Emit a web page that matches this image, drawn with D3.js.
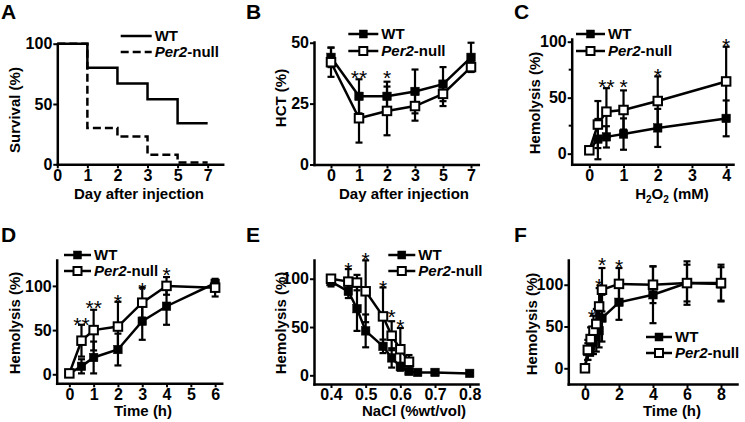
<!DOCTYPE html>
<html>
<head>
<meta charset="utf-8">
<script src="https://d3js.org/d3.v7.min.js"></script>
<style>
  body { margin: 0; background: #fff; }
  svg { display: block; }
</style>
</head>
<body>
<div id="chart"></div>
<script>
// ---- data ----
// A: survival (step curves)
const survDays = ["0", "1", "2", "3", "5", "7"];
const survWT = [100, 80, 67, 54, 34, 34];
const survKO = [100, 30, 23, 8, 1.5, 1.5];

// B: hematocrit
const hctDays = ["0", "1", "2", "3", "5", "7"];
const hctWT = [44, 28, 28, 30, 33, 44];
const hctWTErr = [4, 7, 6, 9, 7, 6];
const hctKO = [42, 19, 22, 24, 29, 40];
const hctKOErr = [6, 10, 10, 6, 5, 2];
const hctStars = [[1, 37.6, "**"], [2, 37.6, "*"]];

// C: H2O2 dose
const h2o2Conc = [0, 0.25, 0.5, 1, 2, 4];
const h2o2WT = [3, 13, 15, 17.5, 23, 31.5];
const h2o2WTErr = [2, 18, 9.5, 14, 17, 16];
const h2o2KO = [3, 26, 37.5, 39, 47, 64.5];
const h2o2KOErr = [2, 21, 21, 17.5, 22, 31];
const h2o2Stars = [[0.5, 64, "**"], [1, 64, "*"], [2, 74, "*"], [4, 100.6, "*"]];

// D: time course (h)
const timeD = [0, 0.5, 1, 2, 3, 4, 6];
const timeDWT = [1, 9, 19, 28, 60, 77, 103];
const timeDWTErr = [1, 8, 18, 18, 21, 21, 3];
const timeDKO = [1, 38, 50, 54, 81, 100, 98];
const timeDKOErr = [1, 18, 23, 28, 17, 10, 10];
const timeDStars = [[0.5, 61.4, "**"], [1, 81, "**"], [2, 87.8, "*"], [3, 101.5, "*"], [4, 118, "*"]];

// E: osmotic fragility
const naclConc = [0.4, 0.45, 0.475, 0.5, 0.55, 0.575, 0.6, 0.625, 0.65, 0.7, 0.8];
const naclWT = [97, 87, 69, 46, 30, 18, 9, 4, 3, 3, 2];
const naclWTErr = [5, 7, 23, 17, 7, 10, 4, 2, 1, 1, 1];
const naclKOConc = [0.4, 0.45, 0.475, 0.5, 0.55, 0.575, 0.6, 0.625];
const naclKO = [100, 97, 96, 87, 61, 41, 27, 14];
const naclKOErr = [3, 13, 8, 32, 30, 15, 22, 7];
const naclStars = [[0.45, 114, "*"], [0.5, 124.5, "*"], [0.55, 96, "*"], [0.575, 66, "*"], [0.6, 55.5, "*"]];

// F: time course, dense early points
const timeF = [0, 0.167, 0.333, 0.5, 0.667, 0.833, 1, 2, 4, 6, 8];
const timeFWT = [0, 20, 27, 32, 38, 45, 60, 79, 88, 102, 101];
const timeFWTErr = [2, 10, 12, 15, 18, 20, 28, 21, 34, 22, 20];
const timeFKO = [0, 22, 35, 45, 53, 74, 94, 101, 100, 102, 102];
const timeFKOErr = [2, 12, 14, 18, 18, 22, 26, 19, 22, 26, 22];
const timeFStars = [[0.4, 67.7, "*"], [0.833, 104.8, "*"], [1, 129.6, "*"], [2, 127.5, "*"]];

// ---- drawing ----
const width = 745, height = 422;
const font = "'Liberation Sans', Arial, Helvetica, sans-serif";

const svg = d3.select("#chart").append("svg")
  .attr("width", width)
  .attr("height", height)
  .style("font-family", font);

function zip(xs, ys, es) {
  return xs.map((d, i) => ({ x: d, y: ys[i], e: es ? es[i] : 0 }));
}

function legendLabel(sel, name) {
  if (name === "WT") {
    sel.text("WT");
  } else {
    sel.append("tspan").attr("font-style", "italic").text("Per2");
    sel.append("tspan").text("-null");
  }
}

function drawPanel(p) {
  const g = svg.append("g");
  const x = d3.scaleLinear().domain(p.xDomain).range(p.xRange);
  const y = d3.scaleLinear().domain(p.yDomain).range(p.yRange);

  // panel letter
  g.append("text")
    .attr("x", p.letter[1]).attr("y", p.letter[2])
    .attr("font-size", 21).attr("font-weight", "bold")
    .text(p.letter[0]);

  // axes
  const xAxis = g.append("g")
    .attr("transform", `translate(0,${p.yRange[0]})`)
    .call(d3.axisBottom(x).tickValues(p.xTicks).tickFormat(p.xFormat)
      .tickSize(4).tickSizeOuter(0).tickPadding(1));
  const yAxis = g.append("g")
    .attr("transform", `translate(${p.xRange[0]},0)`)
    .call(d3.axisLeft(y).tickValues(p.yTicks).tickFormat(d3.format("d"))
      .tickSize(4).tickSizeOuter(0).tickPadding(1));
  if (p.yMinor) {
    yAxis.selectAll(".minor").data(p.yMinor).join("line")
      .attr("x1", -3).attr("x2", 0)
      .attr("y1", d => y(d)).attr("y2", d => y(d))
      .attr("stroke", "#000").attr("stroke-width", 2);
  }
  [xAxis, yAxis].forEach(a => {
    a.select(".domain").attr("stroke-width", 2.5).attr("stroke-linecap", "square");
    a.selectAll(".tick line").attr("stroke-width", 2);
    a.selectAll("text").attr("font-size", 16).attr("font-weight", "bold")
      .attr("font-family", font).attr("fill", "#000");
  });

  // axis titles
  const xt = g.append("text")
    .attr("x", p.xTitlePos[0]).attr("y", p.xTitlePos[1])
    .attr("text-anchor", "middle").attr("font-size", 15).attr("font-weight", "bold");
  p.xTitle(xt);
  g.append("text")
    .attr("transform", `translate(${p.yTitlePos[0]},${p.yTitlePos[1]}) rotate(-90)`)
    .attr("text-anchor", "middle").attr("dy", "0.35em")
    .attr("font-size", 15).attr("font-weight", "bold")
    .text(p.yTitle);

  // series
  p.series.forEach(s => {
    const pts = s.points;
    const sg = g.append("g");
    if (s.step) {
      sg.append("path")
        .datum(pts)
        .attr("fill", "none").attr("stroke", "#000").attr("stroke-width", 2.5)
        .attr("stroke-dasharray", s.dash || null)
        .attr("d", d3.line().x(d => x(d.x)).y(d => y(d.y)).curve(d3.curveStepAfter));
      return;
    }
    const eb = sg.selectAll(".eb").data(pts.filter(d => d.e > 0)).join("g");
    eb.append("line")
      .attr("x1", d => x(d.x)).attr("x2", d => x(d.x))
      .attr("y1", d => y(d.y - d.e)).attr("y2", d => y(d.y + d.e))
      .attr("stroke", "#000").attr("stroke-width", 2.2);
    [-1, 1].forEach(sgn => {
      eb.append("line")
        .attr("x1", d => x(d.x) - 3.5).attr("x2", d => x(d.x) + 3.5)
        .attr("y1", d => y(d.y + sgn * d.e)).attr("y2", d => y(d.y + sgn * d.e))
        .attr("stroke", "#000").attr("stroke-width", 2.2);
    });
    sg.append("path")
      .datum(pts)
      .attr("fill", "none").attr("stroke", "#000").attr("stroke-width", 2.5)
      .attr("d", d3.line().x(d => x(d.x)).y(d => y(d.y)));
    sg.selectAll("rect").data(pts).join("rect")
      .attr("x", d => x(d.x) - 4.25).attr("y", d => y(d.y) - 4.25)
      .attr("width", 8.5).attr("height", 8.5)
      .attr("fill", s.open ? "#fff" : "#000")
      .attr("stroke", "#000").attr("stroke-width", s.open ? 2 : 0.5);
  });

  // significance stars
  if (p.stars) {
    g.selectAll(".star").data(p.stars).join("text")
      .attr("x", d => x(d[0])).attr("y", d => y(d[1]) + 12)
      .attr("text-anchor", "middle").attr("font-size", 21)
      .text(d => d[2]);
  }

  // legend
  const lg = g.append("g");
  p.series.forEach((s, i) => {
    const ly = p.legend.y + i * p.legend.dy;
    const x0 = p.legend.x, x1 = p.legend.x + p.legend.len;
    lg.append("line")
      .attr("x1", x0).attr("x2", x1).attr("y1", ly).attr("y2", ly)
      .attr("stroke", "#000").attr("stroke-width", 2.5)
      .attr("stroke-dasharray", s.dash || null);
    if (!s.step) {
      lg.append("rect")
        .attr("x", (x0 + x1) / 2 - 4).attr("y", ly - 4)
        .attr("width", 8).attr("height", 8)
        .attr("fill", s.open ? "#fff" : "#000")
        .attr("stroke", "#000").attr("stroke-width", s.open ? 2 : 0.5);
    }
    const t = lg.append("text")
      .attr("x", x1 + 3).attr("y", ly).attr("dy", "0.36em")
      .attr("font-size", 15).attr("font-weight", "bold");
    legendLabel(t, s.name);
  });
}

const plain = txt => sel => sel.text(txt);

// A
drawPanel({
  letter: ["A", 1, 19],
  xDomain: [0, 5.5], xRange: [57.3, 222.7],
  yDomain: [0, 100], yRange: [164.3, 43.7],
  xTicks: d3.range(survDays.length), xFormat: i => survDays[i],
  yTicks: [0, 50, 100],
  xTitle: plain("Day after injection"), xTitlePos: [139, 199],
  yTitle: "Survival (%)", yTitlePos: [15, 110],
  series: [
    { name: "WT", step: true, points: zip(d3.range(survDays.length), survWT) },
    { name: "KO", step: true, dash: "8,4", points: zip(d3.range(survDays.length), survKO) }
  ],
  legend: { x: 120.7, y: 36, dy: 16, len: 31 }
});

// B
drawPanel({
  letter: ["B", 246, 19],
  xDomain: [-0.607, 5.26], xRange: [314, 478.3],
  yDomain: [0, 50.3], yRange: [164.5, 42],
  xTicks: d3.range(hctDays.length), xFormat: i => hctDays[i],
  yTicks: [0, 25, 50],
  xTitle: plain("Day after injection"), xTitlePos: [404, 199],
  yTitle: "HCT (%)", yTitlePos: [281, 98],
  series: [
    { name: "WT", points: zip(d3.range(hctDays.length), hctWT, hctWTErr) },
    { name: "KO", open: true, points: zip(d3.range(hctDays.length), hctKO, hctKOErr) }
  ],
  stars: hctStars,
  legend: { x: 348.3, y: 34, dy: 17, len: 30 }
});

// C
drawPanel({
  letter: ["C", 514, 19],
  xDomain: [-0.515, 4.2], xRange: [571.7, 733],
  yDomain: [-9.5, 102.4], yRange: [164.3, 39],
  xTicks: [0, 1, 2, 3, 4], xFormat: d3.format("d"),
  yTicks: [0, 50, 100], yMinor: [25, 75],
  xTitle: sel => {
    sel.append("tspan").text("H");
    sel.append("tspan").attr("font-size", 10).attr("dy", 4).text("2");
    sel.append("tspan").attr("dy", -4).text("O");
    sel.append("tspan").attr("font-size", 10).attr("dy", 4).text("2");
    sel.append("tspan").attr("dy", -4).text(" (mM)");
  },
  xTitlePos: [672, 199],
  yTitle: "Hemolysis (%)", yTitlePos: [535, 103],
  series: [
    { name: "WT", points: zip(h2o2Conc, h2o2WT, h2o2WTErr) },
    { name: "KO", open: true, points: zip(h2o2Conc, h2o2KO, h2o2KOErr) }
  ],
  stars: h2o2Stars,
  legend: { x: 576, y: 34, dy: 17, len: 29 }
});

// D
drawPanel({
  letter: ["D", 1, 241.5],
  xDomain: [-0.52, 6.27], xRange: [56.7, 221.7],
  yDomain: [-10.2, 129.3], yRange: [383.3, 260],
  xTicks: [0, 1, 2, 3, 4, 5, 6], xFormat: d3.format("d"),
  yTicks: [0, 50, 100],
  xTitle: plain("Time (h)"), xTitlePos: [143, 416],
  yTitle: "Hemolysis (%)", yTitlePos: [15, 323],
  series: [
    { name: "WT", points: zip(timeD, timeDWT, timeDWTErr) },
    { name: "KO", open: true, points: zip(timeD, timeDKO, timeDKOErr) }
  ],
  stars: timeDStars,
  legend: { x: 64, y: 255, dy: 16, len: 27 }
});

// E
drawPanel({
  letter: ["E", 246, 241.5],
  xDomain: [0.351, 0.824], xRange: [314, 478],
  yDomain: [-9, 119.4], yRange: [384, 260],
  xTicks: [0.4, 0.5, 0.6, 0.7, 0.8], xFormat: d3.format(".1f"),
  yTicks: [0, 50, 100],
  xTitle: plain("NaCl (%wt/vol)"), xTitlePos: [414, 416],
  yTitle: "Hemolysis (%)", yTitlePos: [281, 323],
  series: [
    { name: "WT", points: zip(naclConc, naclWT, naclWTErr) },
    { name: "KO", open: true, points: zip(naclKOConc, naclKO, naclKOErr) }
  ],
  stars: naclStars,
  legend: { x: 388.3, y: 255, dy: 16, len: 27 }
});

// F
drawPanel({
  letter: ["F", 514, 241.5],
  xDomain: [-0.98, 8.94], xRange: [568.3, 737],
  yDomain: [-18.8, 129.6], yRange: [384, 260],
  xTicks: [0, 2, 4, 6, 8], xFormat: d3.format("d"),
  yTicks: [0, 50, 100],
  xTitle: plain("Time (h)"), xTitlePos: [672, 416],
  yTitle: "Hemolysis (%)", yTitlePos: [532, 324],
  series: [
    { name: "WT", points: zip(timeF, timeFWT, timeFWTErr) },
    { name: "KO", open: true, points: zip(timeF, timeFKO, timeFKOErr) }
  ],
  stars: timeFStars,
  legend: { x: 646, y: 337, dy: 16, len: 26 }
});
</script>
</body>
</html>
